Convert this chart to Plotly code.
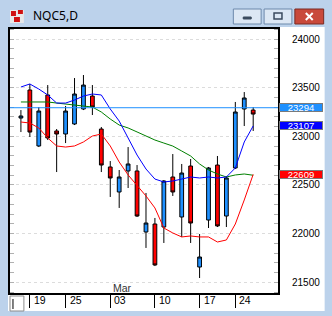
import plotly.graph_objects as go

# ---------------- data ----------------
bar_idx = list(range(27))
opens  = [23188, 23476, 22901, 23425, 23055, 23024, 23127, 23281, 23414, 23075,
          22685, 22428, 22644, 22644, 22017, 22099, 22068, 22582, 22171, 22695,
          21657, 22140, 22705, 22181, 22675, 23281, 23270]
highs  = [23270, 23538, 23301, 23527, 23075, 23312, 23599, 23630, 23527, 23096,
          22746, 22654, 22890, 22705, 22418, 22161, 22551, 22818, 22716, 22767,
          21996, 22685, 22798, 22592, 23353, 23455, 23301]
lows   = [23044, 22993, 22890, 22962, 22633, 22931, 23116, 23270, 23219, 22633,
          22377, 22264, 22469, 22171, 21853, 21667, 21904, 22387, 21966, 21904,
          21544, 22058, 22068, 22068, 22664, 23106, 23055]
closes = [23209, 23044, 23260, 22983, 23024, 23260, 23435, 23527, 23301, 22705,
          22572, 22582, 22716, 22181, 22109, 21678, 22541, 22428, 22623, 22109,
          21760, 22675, 22079, 22572, 23250, 23394, 23229]

ma_blue  = [23507, 23538, 23486, 23425, 23342, 23342, 23373, 23414, 23435, 23425,
            23281, 23157, 22983, 22808, 22664, 22561, 22531, 22541, 22561, 22582,
            22572, 22582, 22572, 22582, 22675, 22942, 23107]
ma_green = [23353, 23353, 23353, 23353, 23342, 23332, 23322, 23312, 23301, 23250,
            23178, 23116, 23086, 23045, 23003, 22962, 22931, 22900, 22849, 22798,
            22716, 22654, 22613, 22582, 22603, 22613, 22600]
ma_red   = [23147, 23137, 23086, 22983, 22901, 22890, 22901, 22942, 23003, 23024,
            22901, 22736, 22603, 22500, 22387, 22264, 22058, 22007, 21966, 21976,
            21966, 21966, 21914, 21935, 22099, 22346, 22609]

tick_idx    = [1, 5, 10, 15, 20, 24]
tick_labels = ["19", "25", "03", "10", "17", "24"]
month_idx, month_label = 10, "Mar"
price_ticks = [21500, 22000, 22500, 23000, 23500, 24000]
bid_price = 23294
title_text = "NQC5,D"

# ---------------- geometry helpers (pixels -> paper) ----------------
W, H = 332, 316
ML, MR, MT, MB = 8, 54, 29, 23
PW, PH = W - ML - MR, H - MT - MB
def PX(px): return (px - ML) / PW
def PY(py): return (H - MB - py) / PH

fig = go.Figure()
fig.add_trace(go.Candlestick(
    x=bar_idx, open=opens, high=highs, low=lows, close=closes,
    increasing=dict(line=dict(color="black", width=1), fillcolor="#1e90ff"),
    decreasing=dict(line=dict(color="black", width=1), fillcolor="#ff0000"),
    whiskerwidth=0, showlegend=False, hoverinfo="skip"))
for vals, col in [(ma_green, "#008000"), (ma_red, "#ff0000"), (ma_blue, "#0000ff")]:
    fig.add_trace(go.Scatter(x=bar_idx, y=vals, mode="lines",
                             line=dict(color=col, width=1), showlegend=False,
                             hoverinfo="skip"))

shapes = []
# white client area of the window
shapes.append(dict(type="rect", xref="paper", yref="paper", layer="below",
                   x0=PX(6), x1=PX(325), y0=PY(311), y1=PY(27),
                   fillcolor="white", line=dict(width=0)))
# bid line
shapes.append(dict(type="line", xref="paper", yref="y", x0=0, x1=1,
                   y0=bid_price, y1=bid_price, line=dict(color="#1e90ff", width=1)))
# title bar buttons
def rect(x0, y0, x1, y1, fill, line, lw=1):
    shapes.append(dict(type="rect", xref="paper", yref="paper",
                       x0=PX(x0), x1=PX(x1), y0=PY(y1), y1=PY(y0),
                       fillcolor=fill, line=dict(color=line, width=lw)))
rect(233, 9, 261, 24, "#dce7f4", "#6d89ab")
rect(243, 17, 251, 19, "#3a4a5e", "#3a4a5e")
rect(264, 9, 292, 24, "#dce7f4", "#6d89ab")
rect(274, 13, 282, 19, "rgba(0,0,0,0)", "#3a4a5e", 1.5)
rect(295, 9, 324, 24, "#c9493b", "#7b2a22")
for (a, b, c, d) in [(306, 13, 313, 20), (306, 20, 313, 13)]:
    shapes.append(dict(type="line", xref="paper", yref="paper",
                       x0=PX(a), x1=PX(c), y0=PY(b), y1=PY(d),
                       line=dict(color="white", width=2)))
# window icon
rect(8, 10, 22, 23, "#e8e8e8", "#e8e8e8", 0)
rect(9, 11, 14, 16, "#d01010", "#d01010", 0)
rect(16, 10, 21, 14, "#d01010", "#d01010", 0)
rect(12, 17, 18, 22, "#d01010", "#d01010", 0)
# scroll box bottom-left
rect(8, 296, 22, 311, "white", "#8c8c8c")
shapes.append(dict(type="line", xref="paper", yref="paper",
                   x0=PX(11), x1=PX(11), y0=PY(299), y1=PY(309),
                   line=dict(color="black", width=1)))

annotations = []
annotations.append(dict(text=title_text, xref="paper", yref="paper",
                        x=PX(29), y=PY(16), xanchor="left", yanchor="middle",
                        showarrow=False, font=dict(family="Noto Sans", size=12, color="black")))
for ti, tl in zip(tick_idx, tick_labels):
    annotations.append(dict(text=tl, xref="x", yref="paper", x=ti, y=0,
                            xanchor="left", yanchor="middle", xshift=2, yshift=-7,
                            showarrow=False,
                            font=dict(family="Liberation Sans", size=10.5, color="black")))
annotations.append(dict(text=month_label, xref="x", yref="paper", x=month_idx, y=0,
                        xanchor="left", yanchor="middle", xshift=1, yshift=5,
                        showarrow=False,
                        font=dict(family="Liberation Sans", size=10.5, color="#333333")))
for val, bg in [(bid_price, "#1e90ff"), (ma_blue[-1], "#0000ff"), (ma_red[-1], "#ff0000")]:
    annotations.append(dict(text=str(val), xref="paper", yref="y", x=1, y=val,
                            xanchor="left", yanchor="middle", xshift=1,
                            width=42, height=7, bgcolor=bg, bordercolor="#7a7a7a",
                            borderwidth=1, borderpad=0, showarrow=False,
                            font=dict(family="Liberation Sans", size=9.5, color="white")))

x_lo = -11 / 9
fig.update_layout(
    width=W, height=H, autosize=False,
    margin=dict(l=ML, r=MR, t=MT, b=MB, pad=0),
    paper_bgcolor="#bcd2eb", plot_bgcolor="white",
    boxgap=0.4,
    shapes=shapes, annotations=annotations,
    xaxis=dict(range=[x_lo, x_lo + 30], tickvals=tick_idx, ticks="outside",
               ticklen=13, tickwidth=1, tickcolor="black", showticklabels=False,
               showgrid=False, zeroline=False, showline=True, linecolor="black",
               linewidth=2, mirror=True, rangeslider=dict(visible=False)),
    yaxis=dict(side="right", range=[21390, 24103], tickvals=price_ticks,
               tickformat="d",
               ticks="", showgrid=True, gridcolor="#dcdcdc", griddash="dot",
               gridwidth=1, zeroline=False, showline=True, linecolor="black",
               linewidth=2, mirror="ticks", ticklabelstandoff=10,
               minor=dict(dtick=100, tick0=0, ticks="inside", ticklen=4,
                          tickcolor="#b0b0b0", showgrid=False),
               tickfont=dict(family="Liberation Sans", size=10, color="black")),
)
fig.write_html("out.html")
